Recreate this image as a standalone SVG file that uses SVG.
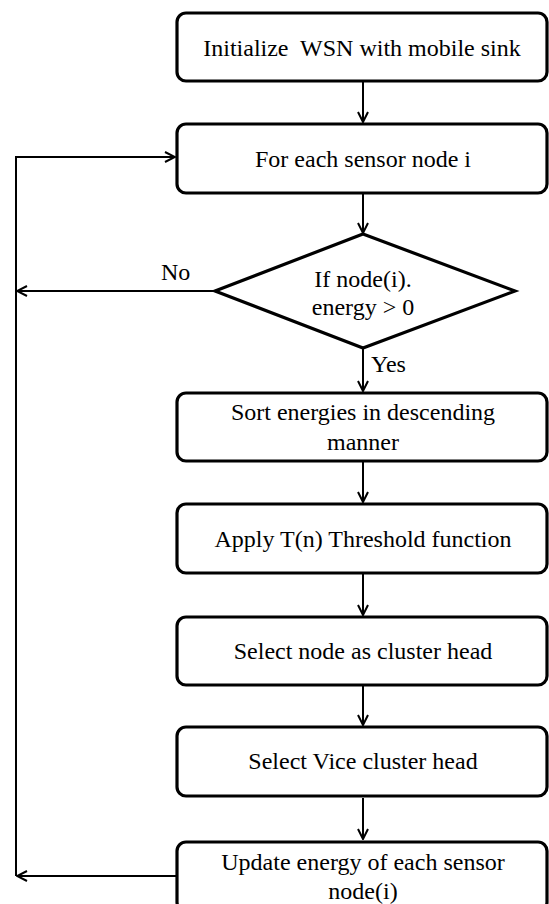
<svg xmlns="http://www.w3.org/2000/svg" width="549" height="904" viewBox="0 0 549 904">
  <style>
    .box { fill: #ffffff; stroke: #000000; stroke-width: 3.2; }
    .wire { fill: none; stroke: #000000; stroke-width: 2; }
    .lbl { font-family: "Liberation Serif", "Times New Roman", serif; font-size: 24px; fill: #000000; text-anchor: middle; white-space: pre; }
    .side { font-family: "Liberation Serif", "Times New Roman", serif; font-size: 24px; fill: #000000; }
  </style>
  <defs>
    <marker id="head" viewBox="0 0 12 12" refX="11" refY="6" markerWidth="12" markerHeight="12" markerUnits="userSpaceOnUse" orient="auto">
      <path d="M1,1 L11,6 L1,11" fill="none" stroke="#000000" stroke-width="2"/>
    </marker>
  </defs>
  <rect width="549" height="904" fill="#ffffff"/>

  <g id="connectors">
    <line class="wire" x1="363" y1="82" x2="363" y2="122" marker-end="url(#head)"/>
    <line class="wire" x1="363" y1="194" x2="363" y2="233" marker-end="url(#head)"/>
    <line class="wire" x1="363" y1="348" x2="363" y2="391" marker-end="url(#head)"/>
    <line class="wire" x1="363" y1="462" x2="363" y2="502" marker-end="url(#head)"/>
    <line class="wire" x1="363" y1="574" x2="363" y2="615" marker-end="url(#head)"/>
    <line class="wire" x1="363" y1="686" x2="363" y2="725" marker-end="url(#head)"/>
    <line class="wire" x1="363" y1="798" x2="363" y2="839" marker-end="url(#head)"/>
    <line class="wire" x1="215" y1="291" x2="17" y2="291" marker-end="url(#head)"/>
    <line class="wire" x1="177" y1="876" x2="17" y2="876" marker-end="url(#head)"/>
    <polyline class="wire" points="16,876 16,157 175,157" marker-end="url(#head)"/>
    <text class="side" x="161" y="280">No</text>
    <text class="side" x="371" y="372">Yes</text>
  </g>

  <g id="init">
    <rect class="box" x="177" y="13" width="370" height="68" rx="9"/>
    <text class="lbl" x="362" y="56" xml:space="preserve">Initialize  WSN with mobile sink</text>
  </g>
  <g id="foreach">
    <rect class="box" x="177" y="124" width="370" height="69" rx="9"/>
    <text class="lbl" x="363" y="167">For each sensor node i</text>
  </g>
  <g id="check">
    <polygon class="box" points="363,234 515,291 363,348 215,291"/>
    <text class="lbl" x="363" y="287">If node(i).</text>
    <text class="lbl" x="363" y="315">energy &gt; 0</text>
  </g>
  <g id="sort">
    <rect class="box" x="177" y="393" width="370" height="68" rx="9"/>
    <text class="lbl" x="363" y="420">Sort energies in descending</text>
    <text class="lbl" x="363" y="450">manner</text>
  </g>
  <g id="threshold">
    <rect class="box" x="177" y="504" width="370" height="69" rx="9"/>
    <text class="lbl" x="363" y="547">Apply T(n) Threshold function</text>
  </g>
  <g id="select-ch">
    <rect class="box" x="177" y="617" width="370" height="68" rx="9"/>
    <text class="lbl" x="363" y="659">Select node as cluster head</text>
  </g>
  <g id="select-vch">
    <rect class="box" x="177" y="727" width="370" height="69" rx="9"/>
    <text class="lbl" x="363" y="769">Select Vice cluster head</text>
  </g>
  <g id="update">
    <rect class="box" x="177" y="842" width="370" height="69" rx="9"/>
    <text class="lbl" x="363" y="870">Update energy of each sensor</text>
    <text class="lbl" x="363" y="899">node(i)</text>
  </g>
</svg>
